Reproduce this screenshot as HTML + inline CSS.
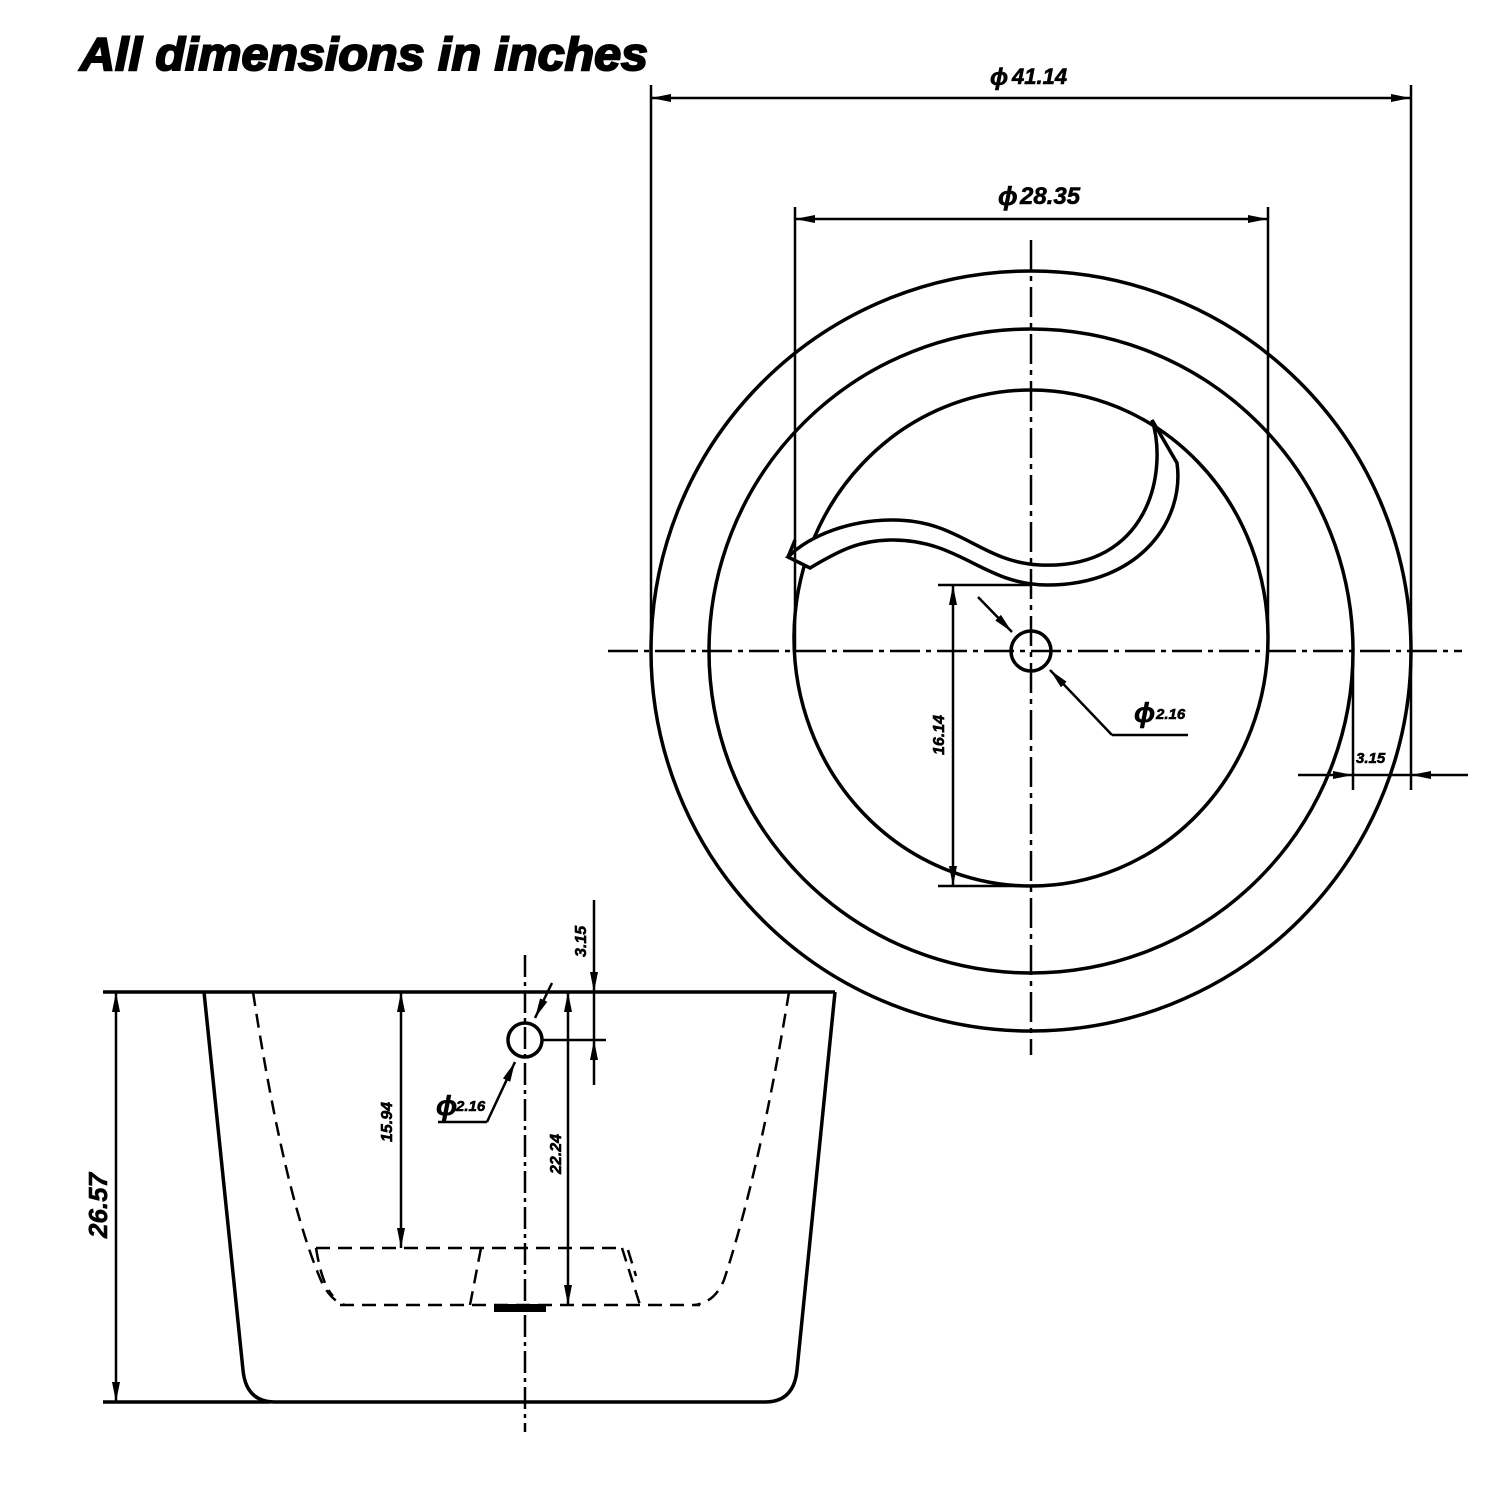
<!DOCTYPE html>
<html><head><meta charset="utf-8"><style>
html,body{margin:0;padding:0;background:#fff}
svg{display:block}
text{font-family:"Liberation Sans",sans-serif;font-weight:bold;font-style:italic;fill:#000;stroke:#000;stroke-width:0.6}
</style></head><body>
<svg width="1500" height="1500" viewBox="0 0 1500 1500" xmlns="http://www.w3.org/2000/svg">
<defs>
<marker id="a" viewBox="0 0 20 8" refX="20" refY="4" markerWidth="20" markerHeight="8" markerUnits="userSpaceOnUse" orient="auto-start-reverse"><path d="M0,0 L20,4 L0,8 Z" fill="#000"/></marker>
</defs>
<text x="80" y="70" font-size="46" textLength="568" lengthAdjust="spacingAndGlyphs" style="stroke-width:2">All dimensions in inches</text>

<g fill="none" stroke="#000" stroke-width="3.5">
<!-- top view -->
<circle cx="1031" cy="651" r="380"/>
<circle cx="1031" cy="651" r="322"/>
<ellipse cx="1031" cy="638" rx="237" ry="248"/>
<path d="M1152,420 C1168,470 1150,570 1040,565 C980,562 960,520 893,520 C850,520 810,535 788,557 L810,568 C840,550 860,540 893,540 C960,540 985,585 1047,585 C1140,585 1185,520 1177,463 Z" fill="#fff"/>
<path d="M788,557 L795,540"/>
<circle cx="1031" cy="651" r="20"/>
</g>
<g stroke="#000" stroke-width="2.5" fill="none">
<path d="M608,651 H1462" stroke-dasharray="30,6,5,6"/>
<path d="M1031,240 V1055" stroke-dasharray="30,6,5,6"/>
<path d="M651,85 V651 M1411,85 V790 M795,207 V651 M1268,207 V651"/>
<path d="M651,98 H1411" marker-start="url(#a)" marker-end="url(#a)"/>
<path d="M795,219 H1268" marker-start="url(#a)" marker-end="url(#a)"/>
<path d="M938,585 H1030 M938,886 H1030"/>
<path d="M953,585 V886" marker-start="url(#a)" marker-end="url(#a)"/>
<path d="M978,597 L1012,632" marker-end="url(#a)"/>
<path d="M1112,735 L1050,670" marker-end="url(#a)"/>
<path d="M1112,735 H1188"/>
<path d="M1353,660 V790"/>
<path d="M1298,775 H1353" marker-end="url(#a)"/>
<path d="M1468,775 H1411" marker-end="url(#a)"/>
<path d="M1353,775 H1411"/>
</g>
<text x="990" y="85" font-size="24" font-style="normal">ϕ</text>
<text x="1012" y="84" font-size="22">41.14</text>
<text x="998" y="205" font-size="26" font-style="normal">ϕ</text>
<text x="1020" y="204" font-size="24">28.35</text>
<text x="1134" y="722" font-size="28" font-style="normal">ϕ</text>
<text x="1156" y="719" font-size="15">2.16</text>
<text x="1356" y="763" font-size="15">3.15</text>
<text transform="translate(944,755) rotate(-90)" font-size="16">16.14</text>

<!-- side view -->
<g fill="none" stroke="#000" stroke-width="3.5">
<path d="M103,992 H835"/>
<path d="M204,992 L243,1370 Q246,1402 275,1402 L765,1402 Q794,1402 797,1370 L835,992"/>
<path d="M103,1402 H270"/>
<circle cx="525" cy="1040" r="17"/>
</g>
<g fill="none" stroke="#000" stroke-width="2.5" stroke-dasharray="14,8">
<path d="M253,992 Q285,1200 323,1285 Q333,1302 345,1305"/>
<path d="M789,992 Q760,1170 724,1280 Q715,1302 695,1305"/>
<path d="M340,1305 H700"/>
<path d="M316,1248 H622"/>
<path d="M316,1248 Q322,1285 333,1296"/>
<path d="M481,1248 L470,1305"/>
<path d="M622,1248 L640,1305"/>
<path d="M628,1250 L636,1276"/>
</g>
<rect x="495" y="1305" width="50" height="6" fill="#000" stroke="#000" stroke-width="2"/>
<g stroke="#000" stroke-width="2.5" fill="none">
<path d="M525,955 V1432" stroke-dasharray="22,5,4,5"/>
<path d="M116,992 V1402" marker-start="url(#a)" marker-end="url(#a)"/>
<path d="M401,992 V1248" marker-start="url(#a)" marker-end="url(#a)"/>
<path d="M568,992 V1305" marker-start="url(#a)" marker-end="url(#a)"/>
<path d="M594,900 V992" marker-end="url(#a)"/>
<path d="M594,1085 V1040" marker-end="url(#a)"/>
<path d="M594,992 V1040"/>
<path d="M542,1040 H606"/>
<path d="M552,983 L535,1018" marker-end="url(#a)"/>
<path d="M487,1122 L515,1062" marker-end="url(#a)"/>
<path d="M487,1122 H438"/>
</g>
<text x="436" y="1115" font-size="28" font-style="normal">ϕ</text>
<text x="456" y="1111" font-size="15">2.16</text>
<text transform="translate(107,1238) rotate(-90)" font-size="26" font-style="normal">26.57</text>
<text transform="translate(392,1142) rotate(-90)" font-size="16">15.94</text>
<text transform="translate(561,1174) rotate(-90)" font-size="16">22.24</text>
<text transform="translate(586,957) rotate(-90)" font-size="16">3.15</text>
</svg>
</body></html>
